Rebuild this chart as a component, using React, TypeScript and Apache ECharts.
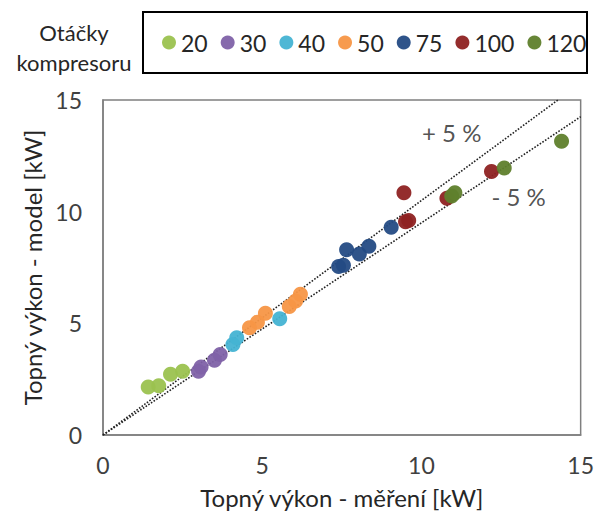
import React, { useEffect, useRef } from "react";
import * as echarts from "echarts";

const speeds = ["20", "30", "40", "50", "75", "100", "120"];
const colors = ["#9bc24f", "#7f62a8", "#45b3d3", "#f79646", "#244b84", "#8e2222", "#5f7f2c"];

const meas20 = [1.42, 1.75, 2.12, 2.5];
const model20 = [2.15, 2.2, 2.72, 2.85];
const meas30 = [3.0, 3.08, 3.5, 3.68];
const model30 = [2.85, 3.05, 3.35, 3.6];
const meas40 = [4.08, 4.2, 5.55];
const model40 = [4.05, 4.35, 5.2];
const meas50 = [4.6, 4.85, 5.1, 5.85, 6.05, 6.2];
const model50 = [4.8, 5.05, 5.45, 5.75, 6.0, 6.3];
const meas75 = [7.4, 7.55, 7.65, 8.05, 8.35, 9.05];
const model75 = [7.55, 7.6, 8.3, 8.1, 8.45, 9.3];
const meas100 = [9.45, 9.5, 9.6, 10.8, 12.2];
const model100 = [10.85, 9.55, 9.6, 10.6, 11.8];
const meas120 = [10.95, 11.05, 12.6, 14.4];
const model120 = [10.7, 10.85, 11.95, 13.15];

const measAll = [meas20, meas30, meas40, meas50, meas75, meas100, meas120];
const modelAll = [model20, model30, model40, model50, model75, model100, model120];

const axisTicks = [0, 5, 10, 15];
const upperLine = [[0, 0], [15 / 1.05, 15]];
const lowerLine = [[0, 0], [15, 14.25]];
const annotations = [
  { text: "+ 5 %", x: 10.95, y: 13.55 },
  { text: "- 5 %", x: 13.05, y: 10.7 },
];

const FONT = "Lato";

export default function App() {
  const ref = useRef<HTMLDivElement>(null);
  useEffect(() => {
    if (!ref.current) return;
    const chart = echarts.init(ref.current, null, { renderer: "svg" });
    const scatterSeries = speeds.map((s, i) => ({
      name: s,
      type: "scatter",
      symbol: "circle",
      symbolSize: 15,
      itemStyle: { color: colors[i], opacity: 0.95 },
      data: measAll[i].map((m, j) => [m, modelAll[i][j]]),
      z: 3,
    }));
    chart.setOption({
      animation: false,
      textStyle: { fontFamily: FONT },
      grid: { left: 103, top: 100, right: 15, bottom: 73, show: true, borderColor: "#7f7f7f", borderWidth: 1.5 },
      legend: {
        data: speeds,
        left: 157,
        top: 26,
        width: 440,
        icon: "circle",
        itemWidth: 14,
        itemHeight: 14,
        itemGap: 13,
        textStyle: { fontSize: 23, color: "#262626", fontFamily: FONT },
      },
      xAxis: {
        type: "value",
        min: axisTicks[0],
        max: axisTicks[axisTicks.length - 1],
        interval: 5,
        splitLine: { show: false },
        axisTick: { show: false },
        axisLine: { lineStyle: { color: "#7f7f7f", width: 1.5 } },
        axisLabel: { fontSize: 23, color: "#404040", margin: 18, fontFamily: FONT },
        name: "Topný výkon - měření [kW]",
        nameLocation: "middle",
        nameGap: 50,
        nameTextStyle: { fontSize: 24, color: "#262626", fontFamily: FONT },
      },
      yAxis: {
        type: "value",
        min: axisTicks[0],
        max: axisTicks[axisTicks.length - 1],
        interval: 5,
        splitLine: { show: false },
        axisTick: { show: false },
        axisLine: { lineStyle: { color: "#7f7f7f", width: 1.5 } },
        axisLabel: { fontSize: 23, color: "#404040", margin: 21, fontFamily: FONT },
        name: "Topný výkon - model [kW]",
        nameLocation: "middle",
        nameGap: 54,
        nameRotate: 90,
        nameTextStyle: { fontSize: 24, color: "#262626", fontFamily: FONT },
      },
      graphic: [
        {
          type: "rect",
          shape: { x: 143, y: 12, width: 444, height: 61 },
          style: { fill: "none", stroke: "#000", lineWidth: 2 },
        },
        {
          type: "text",
          x: 74,
          y: 32,
          style: { text: "Otáčky", fontSize: 22, fill: "#262626", align: "center", verticalAlign: "middle", fontFamily: FONT },
        },
        {
          type: "text",
          x: 74,
          y: 62,
          style: { text: "kompresoru", fontSize: 22, fill: "#262626", align: "center", verticalAlign: "middle", fontFamily: FONT },
        },
      ],
      series: [
        {
          name: "+5",
          type: "line",
          data: upperLine,
          symbol: "none",
          lineStyle: { type: "dotted", color: "#222", width: 1.6 },
          z: 2,
        },
        {
          name: "-5",
          type: "line",
          data: lowerLine,
          symbol: "none",
          lineStyle: { type: "dotted", color: "#222", width: 1.6 },
          z: 2,
        },
        {
          name: "annot",
          type: "scatter",
          symbolSize: 1,
          itemStyle: { color: "transparent" },
          data: annotations.map((a) => ({ value: [a.x, a.y], name: a.text })),
          label: {
            show: true,
            position: "inside",
            formatter: (p: any) => p.name,
            fontSize: 24,
            color: "#262626",
            fontFamily: FONT,
          },
          silent: true,
        },
        ...scatterSeries,
      ],
    });
    return () => chart.dispose();
  }, []);
  return <div ref={ref} style={{ position: "absolute", left: 0, top: 0, width: 597, height: 514 }} />;
}
